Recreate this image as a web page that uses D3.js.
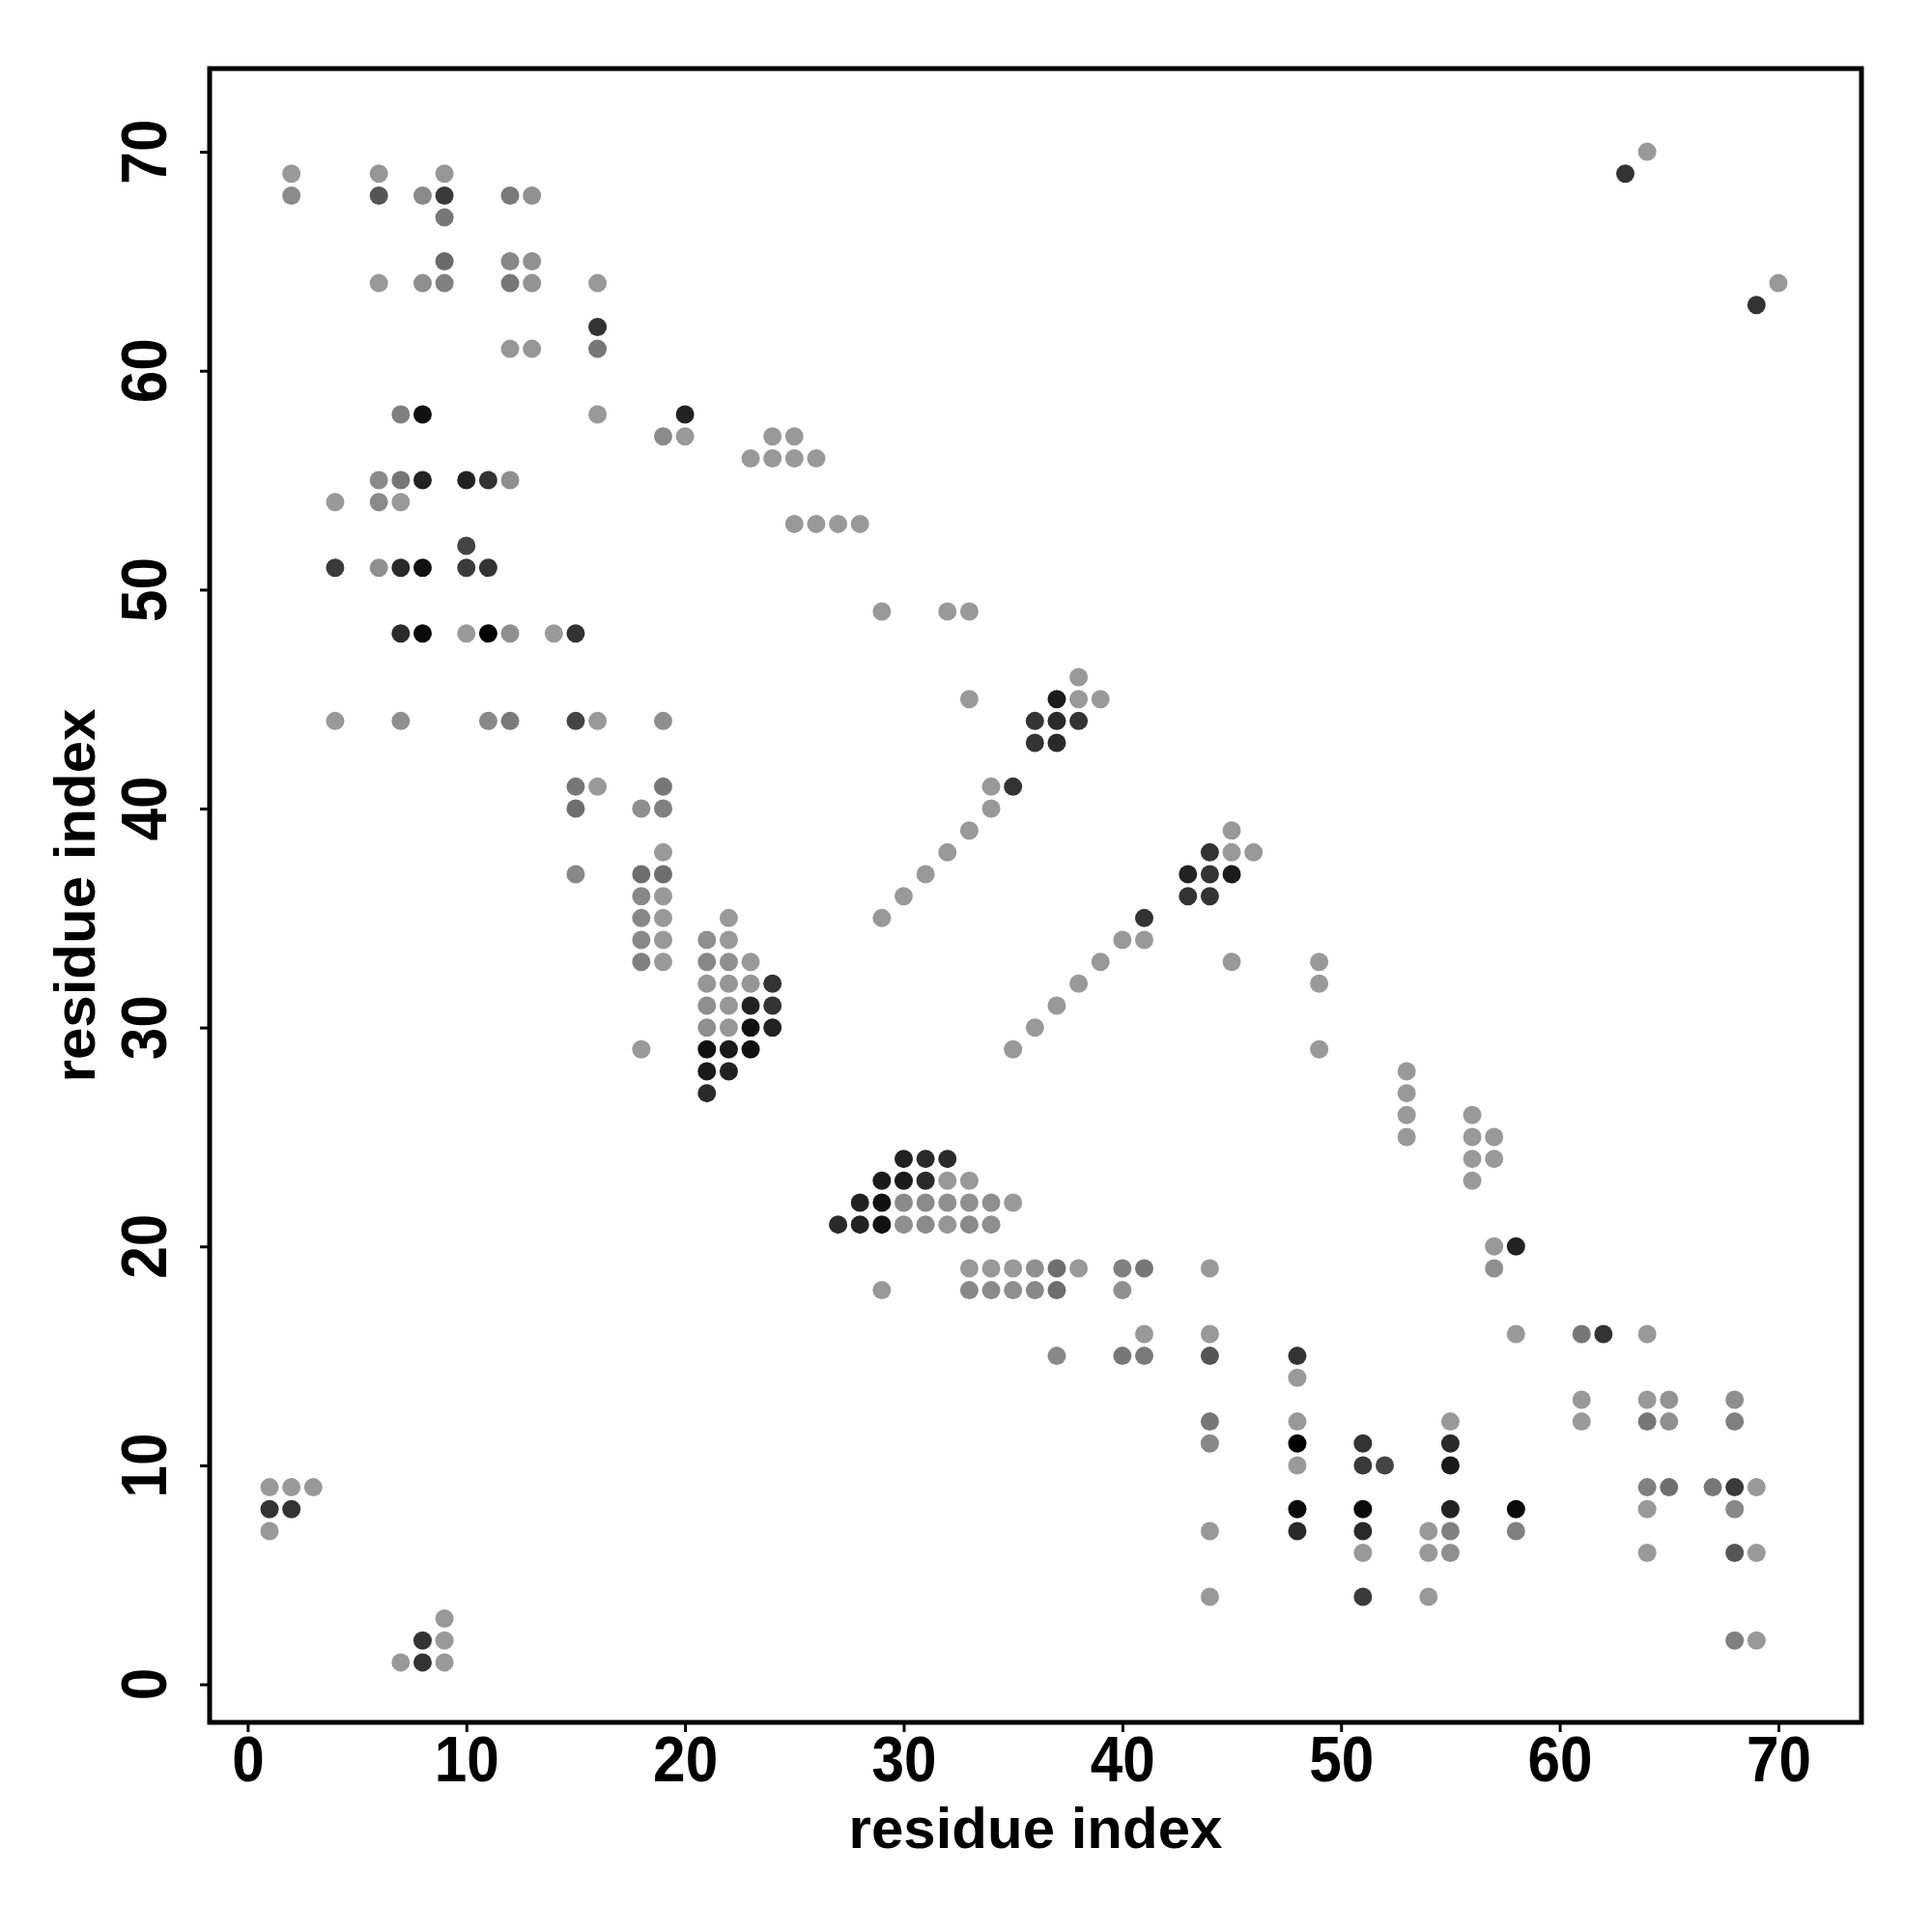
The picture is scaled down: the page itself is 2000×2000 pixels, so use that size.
<!DOCTYPE html>
<html>
<head>
<meta charset="utf-8">
<script src="https://cdn.jsdelivr.net/npm/d3@7"></script>
<style>
  body { margin: 0; background: #fff; }
  text { font-family: "Liberation Sans", Arial, sans-serif; font-weight: bold; }
</style>
</head>
<body>
<svg id="plot"></svg>
<script>
// contact map: [residue i, residue j, grey level of the dot]
const contacts = [
  [64, 70, 153],
  [2, 69, 153], [6, 69, 150], [9, 69, 150], [63, 69, 51],
  [2, 68, 138], [6, 68, 85], [8, 68, 138], [9, 68, 58], [12, 68, 122], [13, 68, 145],
  [9, 67, 119],
  [9, 65, 106], [12, 65, 136], [13, 65, 145],
  [6, 64, 153], [8, 64, 143], [9, 64, 128], [12, 64, 119], [13, 64, 147], [16, 64, 153], [70, 64, 153],
  [69, 63, 51],
  [16, 62, 51],
  [12, 61, 150], [13, 61, 150], [16, 61, 119],
  [7, 58, 128], [8, 58, 17], [16, 58, 153], [20, 58, 34],
  [19, 57, 138], [20, 57, 153], [24, 57, 153], [25, 57, 153],
  [23, 56, 153], [24, 56, 153], [25, 56, 153], [26, 56, 153],
  [6, 55, 138], [7, 55, 119], [8, 55, 34], [10, 55, 34], [11, 55, 51], [12, 55, 143],
  [4, 54, 153], [6, 54, 138], [7, 54, 153],
  [25, 53, 153], [26, 53, 153], [27, 53, 153], [28, 53, 153],
  [10, 52, 68],
  [4, 51, 58], [6, 51, 143], [7, 51, 42], [8, 51, 17], [10, 51, 58], [11, 51, 51],
  [29, 49, 153], [32, 49, 153], [33, 49, 153],
  [7, 48, 42], [8, 48, 10], [10, 48, 153], [11, 48, 0], [12, 48, 143], [14, 48, 153], [15, 48, 51],
  [38, 46, 153],
  [33, 45, 153], [37, 45, 26], [38, 45, 153], [39, 45, 153],
  [4, 44, 153], [7, 44, 143], [11, 44, 136], [12, 44, 122], [15, 44, 68], [16, 44, 153], [19, 44, 143],
  [36, 44, 51], [37, 44, 42], [38, 44, 51],
  [36, 43, 51], [37, 43, 42],
  [15, 41, 119], [16, 41, 153], [19, 41, 119], [34, 41, 153], [35, 41, 51],
  [15, 40, 110], [18, 40, 143], [19, 40, 128], [34, 40, 153],
  [33, 39, 153], [45, 39, 153],
  [19, 38, 153], [32, 38, 153], [44, 38, 51], [45, 38, 153], [46, 38, 153],
  [15, 37, 136], [18, 37, 110], [19, 37, 110], [31, 37, 153], [43, 37, 34], [44, 37, 51], [45, 37, 26],
  [18, 36, 136], [19, 36, 153], [30, 36, 153], [43, 36, 51], [44, 36, 51],
  [18, 35, 136], [19, 35, 153], [22, 35, 153], [29, 35, 153], [41, 35, 51],
  [18, 34, 136], [19, 34, 153], [21, 34, 143], [22, 34, 153], [40, 34, 153], [41, 34, 153],
  [18, 33, 128], [19, 33, 153], [21, 33, 136], [22, 33, 143], [23, 33, 153], [39, 33, 153], [45, 33, 153], [49, 33, 153],
  [21, 32, 150], [22, 32, 150], [23, 32, 150], [24, 32, 51], [38, 32, 153], [49, 32, 153],
  [21, 31, 143], [22, 31, 150], [23, 31, 34], [24, 31, 51], [37, 31, 153],
  [21, 30, 143], [22, 30, 150], [23, 30, 17], [24, 30, 34], [36, 30, 153],
  [18, 29, 153], [21, 29, 17], [22, 29, 26], [23, 29, 17], [35, 29, 153], [49, 29, 153],
  [21, 28, 26], [22, 28, 34], [53, 28, 153],
  [21, 27, 42], [53, 27, 153],
  [53, 26, 153], [56, 26, 153],
  [53, 25, 153], [56, 25, 153], [57, 25, 153],
  [30, 24, 34], [31, 24, 42], [32, 24, 42], [56, 24, 153], [57, 24, 153],
  [29, 23, 26], [30, 23, 26], [31, 23, 42], [32, 23, 153], [33, 23, 153], [56, 23, 153],
  [28, 22, 34], [29, 22, 17], [30, 22, 138], [31, 22, 138], [32, 22, 143], [33, 22, 143], [34, 22, 143], [35, 22, 153],
  [27, 21, 42], [28, 21, 34], [29, 21, 17], [30, 21, 143], [31, 21, 138], [32, 21, 150], [33, 21, 138], [34, 21, 143],
  [57, 20, 153], [58, 20, 34],
  [33, 19, 153], [34, 19, 153], [35, 19, 153], [36, 19, 143], [37, 19, 110], [38, 19, 153], [40, 19, 128], [41, 19, 119],
  [44, 19, 153], [57, 19, 143],
  [29, 18, 153], [33, 18, 136], [34, 18, 138], [35, 18, 143], [36, 18, 136], [37, 18, 110], [40, 18, 143],
  [41, 16, 153], [44, 16, 153], [58, 16, 153], [61, 16, 119], [62, 16, 51], [64, 16, 153],
  [37, 15, 136], [40, 15, 119], [41, 15, 122], [44, 15, 85], [48, 15, 51],
  [48, 14, 153],
  [61, 13, 153], [64, 13, 153], [65, 13, 147], [68, 13, 143],
  [44, 12, 119], [48, 12, 153], [55, 12, 153], [61, 12, 153], [64, 12, 119], [65, 12, 143], [68, 12, 128],
  [44, 11, 136], [48, 11, 0], [51, 11, 51], [55, 11, 42],
  [48, 10, 153], [51, 10, 58], [52, 10, 68], [55, 10, 26],
  [1, 9, 153], [2, 9, 153], [3, 9, 153], [64, 9, 128], [65, 9, 110], [67, 9, 119], [68, 9, 58], [69, 9, 153],
  [1, 8, 51], [2, 8, 51], [48, 8, 10], [51, 8, 10], [55, 8, 34], [58, 8, 10], [64, 8, 153], [68, 8, 136],
  [1, 7, 153], [44, 7, 153], [48, 7, 42], [51, 7, 42], [54, 7, 153], [55, 7, 128], [58, 7, 128],
  [51, 6, 153], [54, 6, 153], [55, 6, 143], [64, 6, 153], [68, 6, 85], [69, 6, 153],
  [44, 4, 153], [51, 4, 58], [54, 4, 153],
  [9, 3, 153],
  [8, 2, 51], [9, 2, 153], [68, 2, 128], [69, 2, 153],
  [7, 1, 153], [8, 1, 51], [9, 1, 153],
];

const xTicks = [0, 10, 20, 30, 40, 50, 60, 70];
const yTicks = [0, 10, 20, 30, 40, 50, 60, 70];
const xLabel = "residue index";
const yLabel = "residue index";

const W = 2000;
const H = 2000;
const box = { left: 217, right: 1927, top: 71, bottom: 1783 };
const domain = [-1.74, 73.8];

const svg = d3.select("#plot").attr("width", W).attr("height", H);

svg.append("rect").attr("width", W).attr("height", H).attr("fill", "#fff");

const x = d3.scaleLinear().domain(domain).range([box.left, box.right]);
const y = d3.scaleLinear().domain(domain).range([box.bottom, box.top]);

// dots
svg
  .append("g")
  .selectAll("circle")
  .data(contacts)
  .enter()
  .append("circle")
  .attr("cx", (d) => x(d[0]))
  .attr("cy", (d) => y(d[1]))
  .attr("r", 9.5)
  .attr("fill", (d) => d3.rgb(d[2], d[2], d[2]));

// axes (ticks only, the frame is drawn separately)
const xAxis = svg
  .append("g")
  .attr("transform", `translate(0,${box.bottom})`)
  .call(d3.axisBottom(x).tickValues(xTicks).tickSize(10).tickPadding(3));

xAxis.select(".domain").remove();
xAxis.selectAll(".tick line").attr("stroke", "#000").attr("stroke-width", 3);
xAxis
  .selectAll(".tick text")
  .attr("fill", "#000")
  .attr("transform", "scale(0.9,1)")
  .style("font-size", "67px")
  .style("font-family", '"Liberation Sans", Arial, sans-serif')
  .style("font-weight", "bold");

const yAxis = svg
  .append("g")
  .attr("transform", `translate(${box.left},0)`)
  .call(d3.axisLeft(y).tickValues(yTicks).tickSize(10).tickFormat(""));

yAxis.select(".domain").remove();
yAxis.selectAll(".tick line").attr("stroke", "#000").attr("stroke-width", 3);

svg
  .append("g")
  .selectAll("text")
  .data(yTicks)
  .enter()
  .append("text")
  .attr("transform", (d) => `translate(172,${y(d)}) rotate(-90) scale(0.9,1)`)
  .attr("text-anchor", "middle")
  .style("font-size", "67px")
  .text((d) => d);

// frame
svg
  .append("rect")
  .attr("x", box.left)
  .attr("y", box.top)
  .attr("width", box.right - box.left)
  .attr("height", box.bottom - box.top)
  .attr("fill", "none")
  .attr("stroke", "#000")
  .attr("stroke-width", 5);

// axis titles
svg
  .append("text")
  .attr("x", (box.left + box.right) / 2)
  .attr("y", 1913)
  .attr("text-anchor", "middle")
  .style("font-size", "60px")
  .text(xLabel);

svg
  .append("text")
  .attr("transform", `translate(98,${(box.top + box.bottom) / 2}) rotate(-90)`)
  .attr("text-anchor", "middle")
  .style("font-size", "60px")
  .text(yLabel);
</script>
</body>
</html>
